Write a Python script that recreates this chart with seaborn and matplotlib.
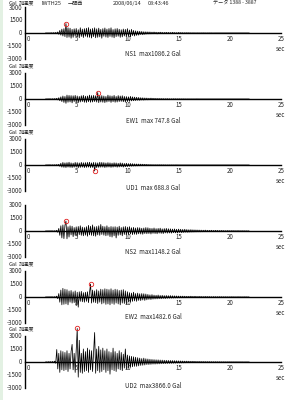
import numpy as np
import pandas as pd
import matplotlib
matplotlib.use("Agg")
import matplotlib.pyplot as plt
import seaborn as sns
from matplotlib.patches import Rectangle

# ---------------- data (Gal), sampled every 0.1 s from t = 2.0 s ----------------
T0 = 2.0
DT = 0.1

ns1 = [0, 0, 0, 0, 0, 0, 20, -30, 40, -50, 60, -80, 120, -150, 300, -250, 450, -350, 500, -420,
       1086.2, -520, 600, -480, 550, -600, 420, -500, 480, -350, 520, -450, 380, -550, 600, -400, 450, -520, 500, -380,
       550, -480, 620, -500, 450, -580, 520, -420, 600, -550, 480, -500, 560, -450, 420, -600, 500, -380, 580, -470,
       450, -520, 520, -400, 600, -480, 400, -550, 480, -420, 520, -380, 430, -500, 380, -450, 460, -350, 420, -400,
       500, -380, 350, -450, 420, -300, 300, -350, 250, -280, 220, -250, 200, -180, 180, -200, 150, -160, 140, -120,
       130, -110, 120, -100, 100, -90, 110, -80, 90, -100, 80, -70, 90, -60, 70, -80, 60, -50, 70, -60,
       60, -50, 50, -60, 70, -40, 50, -45, 40, -50, 60, -35, 40, -30, 35, -40, 30, -25, 30, -20,
       25, -20, 20, -25, 20, -15, 15, -20, 15, -10, 10, -15, 10, -10, 10, -5, 5, -10, 5, -5,
       5, -5, 5, -5, 0, 0, 0, 0, 0, 0, 0, 0, 0, 0, 0, 0, 0, 0, 0, 0,
       0, 0, 0, 0, 0, 0, 0, 0, 0, 0, 0, 0, 0, 0, 0, 0, 0, 0, 0, 0]

ew1 = [0, 0, 0, 0, 0, 10, -20, 30, -40, 50, -60, 80, -100, 150, -200, 250, -300, 350, -400, 300,
       -500, 450, -380, 420, -350, 400, -450, 380, -300, 420, -380, 350, -420, 300, -350, 380, -300, 420, -380, 330,
       -400, 350, -320, 450, -380, 400, -350, 420, -300, 380, -350, 747.8, -420, 380, -350, 400, -380, 350, -420, 300,
       -350, 450, -300, 380, -400, 350, -320, 420, -380, 300, -350, 400, -300, 350, -280, 380, -320, 300, -350, 280,
       -300, 250, -280, 300, -220, 250, -200, 220, -180, 200, -150, 180, -160, 150, -120, 140, -130, 120, -100, 110,
       -100, 90, -80, 100, -70, 80, -60, 70, -60, 60, -50, 55, -45, 50, -40, 45, -40, 35, -30, 40,
       -35, 30, -30, 25, -25, 30, -20, 25, -20, 20, -15, 20, -15, 15, -10, 15, -10, 10, -10, 10,
       -5, 5, -5, 5, -5, 5, -5, 5, 0, 0, 0, 0, 0, 0, 0, 0, 0, 0, 0, 0,
       0, 0, 0, 0, 0, 0, 0, 0, 0, 0, 0, 0, 0, 0, 0, 0, 0, 0, 0, 0,
       0, 0, 0, 0, 0, 0, 0, 0, 0, 0, 0, 0, 0, 0, 0, 0, 0, 0, 0, 0]

ud1 = [0, 0, 0, 0, 0, 10, -15, 20, -25, 30, -40, 50, -60, 80, -150, 200, -250, 300, -280, 250,
       -300, 280, -250, 320, -280, 250, -300, 220, -260, 300, -250, 280, -320, 240, -280, 300, -250, 260, -300, 280,
       -280, 300, -250, 320, -300, 250, -280, 300, -688.8, 280, -300, 250, -280, 320, -260, 300, -250, 280, -300, 240,
       -260, 280, -240, 250, -280, 220, -250, 260, -220, 240, -260, 200, -230, 250, -200, 220, -240, 180, -200, 200,
       -180, 160, -150, 170, -140, 150, -120, 130, -110, 120, -100, 110, -90, 100, -80, 90, -70, 80, -60, 70,
       -60, 55, -50, 50, -45, 40, -40, 35, -30, 30, -25, 30, -20, 25, -20, 20, -15, 15, -15, 10,
       -10, 10, -10, 10, -5, 5, -5, 5, 0, 0, 0, 0, 0, 0, 0, 0, 0, 0, 0, 0,
       0, 0, 0, 0, 0, 0, 0, 0, 0, 0, 0, 0, 0, 0, 0, 0, 0, 0, 0, 0,
       0, 0, 0, 0, 0, 0, 0, 0, 0, 0, 0, 0, 0, 0, 0, 0, 0, 0, 0, 0,
       0, 0, 0, 0, 0, 0, 0, 0, 0, 0, 0, 0, 0, 0, 0, 0, 0, 0, 0, 0]

ns2 = [0, 0, 0, 0, 0, 0, 0, 10, -20, 30, -50, 80, -150, 300, -500, 600, -800, 700, -880, 650,
       1148.2, -900, 500, -700, 600, -450, 550, -650, 400, -500, 480, -600, 520, -420, 600, -500, 450, -550, 400, -480,
       500, -600, 650, -450, 550, -500, 700, -550, 480, -600, 520, -450, 600, -500, 750, -400, 550, -480, 500, -550,
       600, -500, 450, -650, 520, -700, 480, -550, 500, -800, 450, -500, 550, -450, 400, -550, 480, -400, 520, -450,
       450, -400, 500, -350, 380, -420, 420, -380, 350, -400, 400, -330, 380, -350, 320, -380, 350, -300, 400, -320,
       380, -300, 320, -350, 300, -280, 350, -300, 280, -320, 300, -250, 330, -280, 250, -300, 280, -230, 300, -250,
       260, -230, 250, -250, 220, -200, 240, -220, 200, -230, 220, -180, 200, -200, 180, -170, 200, -150, 170, -160,
       150, -140, 160, -130, 140, -120, 130, -110, 120, -100, 110, -100, 100, -90, 90, -80, 100, -80, 80, -70,
       70, -60, 80, -60, 60, -50, 70, -50, 60, -50, 50, -40, 60, -40, 50, -45, 40, -40, 50, -35,
       40, -35, 45, -30, 40, -30, 35, -30, 40, -25, 30, -25, 30, -20, 25, -20, 20, -15, 15, -10]

ew2 = [0, 0, 0, 0, 0, 0, 0, 10, -20, 40, -60, 100, -200, 400, -600, 800, -900, 1000, -850, 900,
       -800, 850, -900, 700, -600, 750, -700, 600, -650, 700, -1000, 550, -1170, 600, -500, 650, -550, 500, -600, 550,
       -500, 600, -650, 500, 1482.6, -700, 800, -600, 700, -650, 850, -750, 700, -600, 900, -800, 850, -700, 950, -850,
       900, -800, 850, -900, 950, -750, 800, -850, 900, -700, 850, -800, 750, -900, 800, -700, 850, -750, 700, -800,
       600, -550, 500, -600, 450, -500, 550, -450, 400, -500, 450, -400, 380, -420, 400, -350, 380, -400, 350, -330,
       300, -280, 250, -300, 280, -250, 220, -230, 200, -220, 230, -200, 180, -200, 190, -170, 160, -180, 170, -150,
       150, -140, 160, -130, 140, -120, 130, -110, 120, -110, 110, -100, 100, -90, 100, -80, 90, -80, 80, -70,
       80, -70, 90, -60, 70, -60, 80, -50, 60, -60, 70, -50, 60, -50, 50, -45, 60, -40, 50, -40,
       50, -40, 40, -45, 45, -35, 40, -35, 35, -30, 40, -30, 35, -30, 30, -25, 30, -25, 25, -25,
       25, -20, 30, -20, 25, -20, 20, -20, 25, -15, 20, -15, 15, -15, 20, -10, 15, -10, 10, -10]

ud2 = [0, 10, -20, 30, -20, 40, -50, 60, -80, 100, -150, 1440, -800, 1000, -1200, 1300, -900, 1200, -1000, 1100,
       -900, 1300, -1100, 1000, -800, 1200, 2030, -900, 1000, -1200, 1400, 3866.0, -1750, 2500, -1200, 1000, -1300, 1500, -1100, 1200,
       -1000, 1600, -1200, 1400, -900, 1300, -1100, 1200, 3400, -1300, 1500, -1000, 1800, -1200, 1400, -1100, 1600, -900, 1300, -1200,
       1500, -1000, 1200, -1400, 1100, -900, 1600, -1000, 1200, -1100, 1000, -800, 1300, -900, 1100, -1000, 900, -700, 1500, -800,
       800, -700, 700, -600, 650, -550, 600, -500, 550, -500, 500, -450, 450, -400, 400, -380, 450, -350, 380, -300,
       350, -300, 320, -280, 300, -250, 280, -250, 260, -230, 250, -220, 230, -200, 220, -190, 200, -180, 190, -170,
       180, -160, 170, -150, 160, -140, 150, -130, 140, -120, 130, -120, 120, -110, 110, -100, 100, -90, 100, -80,
       90, -80, 80, -70, 80, -60, 70, -60, 60, -55, 60, -50, 55, -45, 50, -40, 45, -40, 40, -35,
       40, -35, 35, -30, 30, -30, 30, -25, 25, -25, 25, -20, 20, -20, 20, -15, 15, -15, 15, -10,
       15, -10, 10, -10, 10, -10, 10, -5, 5, -5, 5, -5, 5, -5, 0, 0, 0, 0, 0, 0]

channels = ["NS1", "EW1", "UD1", "NS2", "EW2", "UD2"]
max_labels = ["max1086.2 Gal", "max 747.8 Gal", "max 688.8 Gal",
              "max1148.2 Gal", "max1482.6 Gal", "max3866.0 Gal"]
peak_times = [4.0, 7.1, 6.8, 4.0, 6.4, 5.1]
peak_vals = [1086.2, 747.8, -688.8, 1148.2, 1482.6, 3866.0]
y_ticks = [3000, 1500, 0, -1500, -3000]
x_major = [0, 5, 10, 15, 20, 25]
header_items = ["Gal", "加速度", "IWTH25", "一関西", "2008/06/14", "08:43:46", "データ 1388 - 3887"]

traces = [ns1, ew1, ud1, ns2, ew2, ud2]

# ---------------- styling ----------------
sns.set_style("white")
plt.rcParams["font.family"] = ["Liberation Sans Narrow", "Noto Sans CJK JP", "DejaVu Sans"]
FS = 4.4
FS_LBL = 4.0
FS_CJK = 3.7

W, H = 298, 400
fig = plt.figure(figsize=(W / 100, H / 100), dpi=100)
fig.patch.set_facecolor("white")
fig.patches.append(Rectangle((0, 0), 3 / W, 1, transform=fig.transFigure,
                             facecolor="#e3f1e3", edgecolor="none", zorder=0))

zero_px = [33, 99, 165, 231, 297, 362]
title_px = [54, 121, 188, 252, 317, 386]
label_px = [None, 66, 132, None, 264.5, 329.5]
half = 33
ymax = 3000 * half / 26.0

def fx(px):
    return px / W

def fy(py):
    return 1 - py / H

for i, (ch, vals) in enumerate(zip(channels, traces)):
    z = zero_px[i]
    ax = fig.add_axes([fx(25), fy(z + half), fx(281) - fx(25), 2 * half / H])
    ax.set_facecolor("none")
    t = T0 + DT * np.arange(len(vals))
    df = pd.DataFrame({"t": t, "acc": vals})
    sns.lineplot(data=df, x="t", y="acc", ax=ax, color="black", lw=0.55,
                 sort=False, estimator=None, legend=False)
    for ln in ax.lines:
        ln.set_clip_on(False)
    ax.plot([peak_times[i]], [peak_vals[i]], marker="o", ms=3.2, mfc="none",
            mec="#e02020", mew=0.6, clip_on=False, zorder=5)
    ax.set_xlim(0, 25)
    ax.set_ylim(-ymax, ymax)
    ax.set_xlabel("")
    ax.set_ylabel("")
    for s in ["top", "right"]:
        ax.spines[s].set_visible(False)
    ax.spines["bottom"].set_position(("data", 0))
    ax.spines["bottom"].set_linewidth(1.0)
    ax.spines["left"].set_bounds(-3000, 3000)
    ax.spines["left"].set_linewidth(1.0)
    ax.spines["bottom"].set_color("black")
    ax.spines["left"].set_color("black")
    ax.set_xticks(x_major, labels=[""] * len(x_major))
    ax.set_xticks(np.arange(0, 26, 1), minor=True)
    ax.set_yticks(y_ticks, labels=[""] * len(y_ticks))
    ax.tick_params(axis="x", which="major", direction="inout", length=4, width=0.8, color="black")
    ax.tick_params(axis="x", which="minor", direction="inout", length=2.5, width=0.6, color="black")
    ax.tick_params(axis="y", which="major", direction="in", length=2.5, width=0.8, color="black")
    for xv in x_major:
        dx = 3 if xv == 0 else 0.5
        ax.annotate(str(xv), (xv, 0), xytext=(dx * 0.72, -4.4), textcoords="offset points",
                    ha="center", va="center", fontsize=FS)
    for yv in y_ticks:
        dy = 0
        if yv == 3000:
            dy = -0.9 if i == 0 else -0.3
        ax.annotate(str(yv), (0, yv), xytext=(-1.8, dy),
                    textcoords="offset points", ha="right", va="center", fontsize=FS)
    fig.text(fx(280), fy(z + 16), "sec", ha="center", va="center", fontsize=FS)
    fig.text(fx(153), fy(title_px[i]), f"{ch}  {max_labels[i]}", ha="center",
             va="center", fontsize=FS)
    if label_px[i] is not None:
        fig.text(fx(9), fy(label_px[i]), "Gal", ha="left", va="center", fontsize=FS_LBL)
        fig.text(fx(19), fy(label_px[i]), "加速度", ha="left", va="center", fontsize=FS_CJK)

# header line of the first panel
header_x = [9, 19, 42, 68, 113, 148, 213]
header_fs = [FS_LBL, FS_CJK, FS_LBL, FS_CJK, FS_LBL, FS_LBL, FS_CJK]
for hx, txt, hf in zip(header_x, header_items, header_fs):
    fig.text(fx(hx), fy(0.6), txt, ha="left", va="top", fontsize=hf)

fig.savefig("out.png", dpi=100)
